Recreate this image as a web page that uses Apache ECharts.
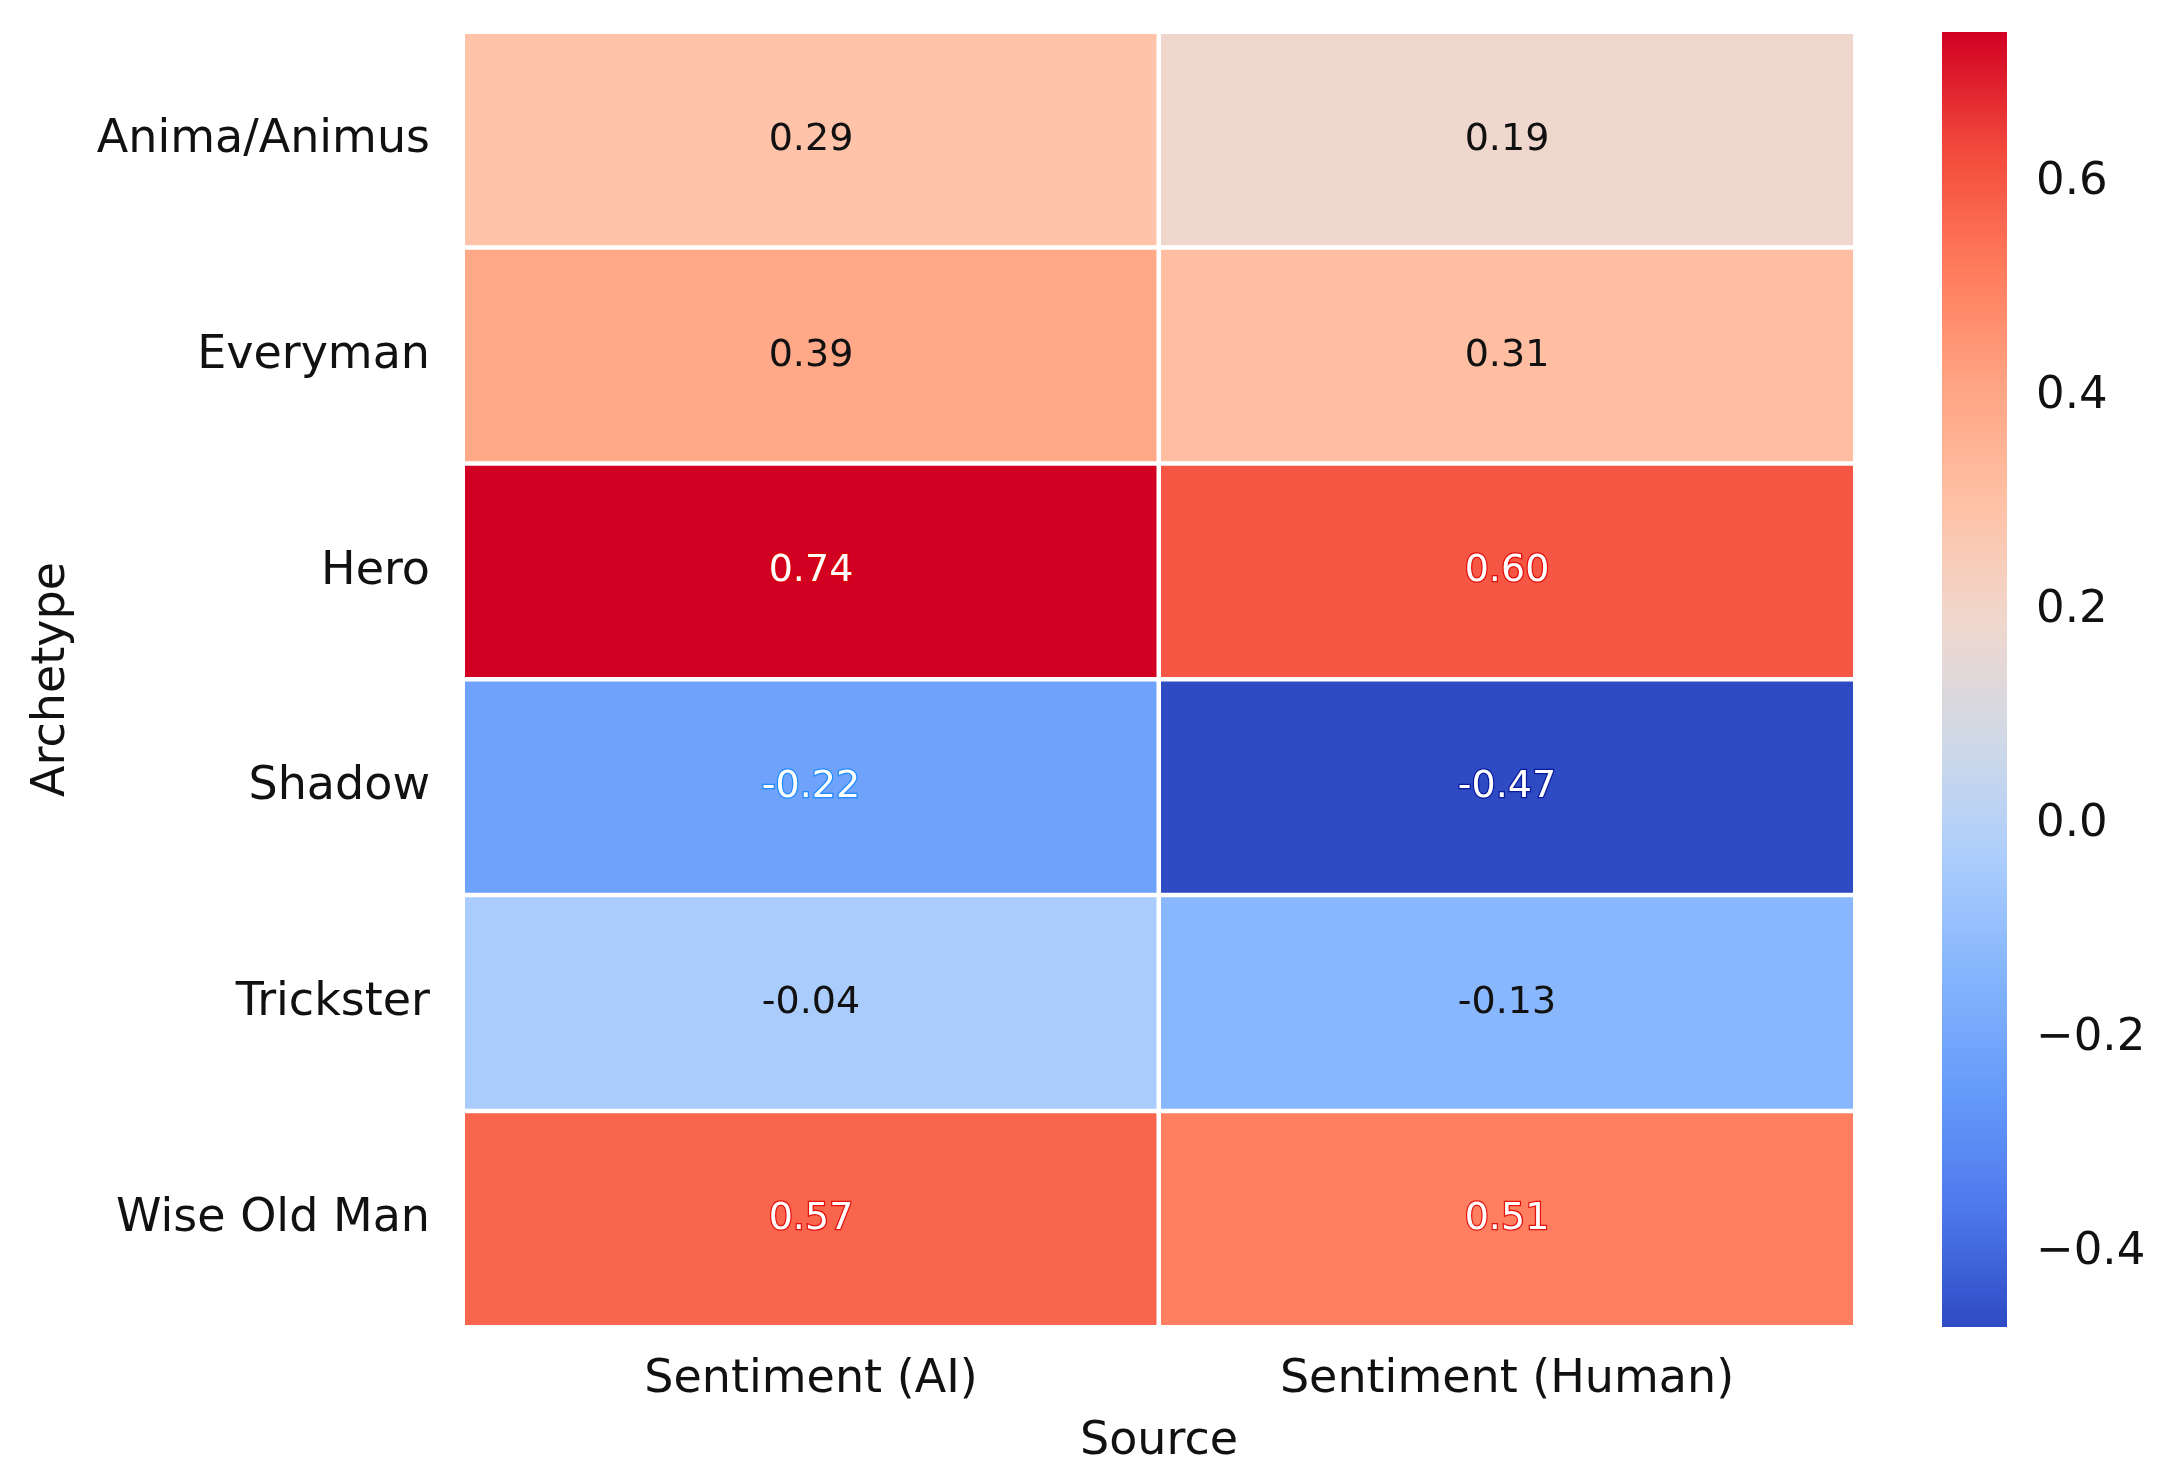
<!DOCTYPE html>
<html>
<head>
<meta charset="utf-8">
<script src="https://cdn.jsdelivr.net/npm/echarts@6/dist/echarts.min.js"></script>
<style>
  html, body { margin: 0; padding: 0; background: #fff; }
  #container { width: 2160px; height: 1479px; }
</style>
</head>
<body>
<div id="container"></div>
<script>
// data
var archetypes = ['Anima/Animus', 'Everyman', 'Hero', 'Shadow', 'Trickster', 'Wise Old Man'];
var sources = ['Sentiment (AI)', 'Sentiment (Human)'];
var sentimentAI = [0.29, 0.39, 0.74, -0.22, -0.04, 0.57];
var sentimentHuman = [0.19, 0.31, 0.60, -0.47, -0.13, 0.51];
var colorbarTicks = [-0.4, -0.2, 0.0, 0.2, 0.4, 0.6];

var vMin = -0.47, vMax = 0.74;
// coolwarm-like stops, evenly spaced from vMin to vMax
var cmap = ['#2e4bc4', '#4d78ec', '#659bfa', '#85b5fd', '#adcefc', '#d0d9e6',
            '#f0d7cd', '#ffc1a5', '#ffa483', '#ff7b5c', '#f24a3c', '#d10022'];

var font = 'DejaVu Sans';

function labelStyle(v) {
  var dark = v > 0.45 || v < -0.18;
  if (!dark) return { color: '#111' };
  var halo = v > 0 ? 'rgba(225,0,0,0.85)' : (v < -0.3 ? '#0a1a9e' : '#1e8cff');
  return { color: '#fff', textBorderColor: halo, textBorderWidth: 2.5 };
}

var cells = [];
[sentimentAI, sentimentHuman].forEach(function (col, x) {
  col.forEach(function (v, y) {
    cells.push({ value: [x, y, v], label: labelStyle(v) });
  });
});

var element = document.getElementById('container');
var myChart = echarts.init(element, null, { renderer: 'canvas' });

var gradStops = cmap.map(function (c, i) {
  return { offset: 1 - i / (cmap.length - 1), color: c };
});

var option = {
  backgroundColor: '#fff',
  animation: false,
  textStyle: { fontFamily: font },
  grid: [
    { left: 463, top: 32, width: 1392, height: 1295 },
    { left: 1942, top: 32, width: 65, height: 1295 }
  ],
  xAxis: [
    {
      type: 'category', gridIndex: 0, data: sources,
      axisLine: { show: false }, axisTick: { show: false }, splitLine: { show: false },
      axisLabel: { fontSize: 46, color: '#111', margin: 30, fontFamily: font },
      name: 'Source', nameLocation: 'middle', nameGap: 92,
      nameTextStyle: { fontSize: 46, color: '#111', fontFamily: font }
    },
    { type: 'value', gridIndex: 1, min: 0, max: 1, show: false }
  ],
  yAxis: [
    {
      type: 'category', gridIndex: 0, data: archetypes, inverse: true,
      axisLine: { show: false }, axisTick: { show: false }, splitLine: { show: false },
      axisLabel: { fontSize: 46, color: '#111', margin: 33, fontFamily: font },
      name: 'Archetype', nameLocation: 'middle', nameGap: 388, nameRotate: 90,
      nameTextStyle: { fontSize: 46, color: '#111', fontFamily: font }
    },
    {
      type: 'value', gridIndex: 1, position: 'right', min: vMin, max: vMax,
      axisLine: { show: false }, splitLine: { show: false },
      axisTick: { show: true, length: 12, customValues: colorbarTicks,
                  lineStyle: { color: '#111', width: 2 } },
      axisLabel: {
        fontSize: 45, color: '#111', margin: 29, fontFamily: font,
        customValues: colorbarTicks,
        formatter: function (v) { return v.toFixed(1).replace('-', '\u2212'); }
      }
    }
  ],
  visualMap: {
    type: 'continuous', show: false, seriesIndex: 0, dimension: 2,
    min: vMin, max: vMax, inRange: { color: cmap }
  },
  series: [
    {
      type: 'heatmap', xAxisIndex: 0, yAxisIndex: 0, data: cells,
      itemStyle: { borderColor: '#fff', borderWidth: 4.5 },
      label: {
        show: true, fontSize: 38, fontFamily: font,
        formatter: function (p) { return p.value[2].toFixed(2); }
      },
      emphasis: { disabled: true }
    },
    {
      type: 'custom', xAxisIndex: 1, yAxisIndex: 1, data: [[0, vMin, 1, vMax]],
      renderItem: function (params, api) {
        var p0 = api.coord([api.value(0), api.value(1)]);
        var p1 = api.coord([api.value(2), api.value(3)]);
        return {
          type: 'rect',
          shape: { x: p0[0], y: p1[1], width: p1[0] - p0[0], height: p0[1] - p1[1] },
          style: { fill: new echarts.graphic.LinearGradient(0, 0, 0, 1, gradStops) }
        };
      },
      silent: true
    }
  ]
};
option && myChart.setOption(option);
</script>
</body>
</html>
